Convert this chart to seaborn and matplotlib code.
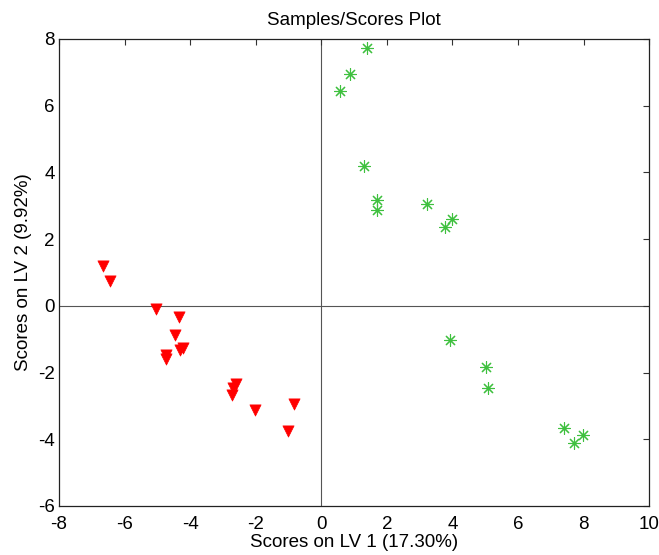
"""
Samples/Scores plot (LV1 vs LV2) recreated with seaborn
"""
import matplotlib
matplotlib.use('Agg')
import matplotlib.pyplot as plt
import seaborn as sns
import pandas as pd

# class 1 (red triangles)
lv1_a = [-6.66, -6.43, -5.03, -4.34, -4.46, -4.22, -4.32, -4.75, -4.75,
         -2.61, -2.69, -2.72, -2.03, -0.83, -1.01]
lv2_a = [1.20, 0.75, -0.10, -0.35, -0.88, -1.26, -1.33, -1.46, -1.60,
         -2.33, -2.46, -2.66, -3.13, -2.95, -3.75]

# class 2 (green stars)
lv1_b = [1.39, 0.89, 0.57, 1.31, 1.69, 1.69, 3.24, 3.99, 3.78,
         3.94, 5.02, 5.10, 7.41, 7.98, 7.72]
lv2_b = [7.73, 6.96, 6.43, 4.20, 3.17, 2.87, 3.04, 2.59, 2.35,
         -1.03, -1.84, -2.45, -3.65, -3.86, -4.11]

xticks = [-8, -6, -4, -2, 0, 2, 4, 6, 8, 10]
yticks = [-6, -4, -2, 0, 2, 4, 6, 8]

df = pd.DataFrame({
    'lv1': lv1_a + lv1_b,
    'lv2': lv2_a + lv2_b,
    'cls': ['a'] * len(lv1_a) + ['b'] * len(lv1_b),
})

sns.set_style('white')
plt.rcParams['font.family'] = ['Liberation Sans', 'DejaVu Sans']
plt.rcParams['axes.unicode_minus'] = False
plt.rcParams['xtick.direction'] = 'in'
plt.rcParams['ytick.direction'] = 'in'
plt.rcParams['text.color'] = 'black'
plt.rcParams['axes.labelcolor'] = 'black'
plt.rcParams['xtick.labelcolor'] = 'black'
plt.rcParams['ytick.labelcolor'] = 'black'

fig = plt.figure(figsize=(6.59, 5.55), dpi=100)
ax = fig.add_axes([0.0895, 0.0883, 0.8955, 0.8417])

ax.axhline(0, color='#555555', lw=0.8, zorder=0)
ax.axvline(0, color='#555555', lw=0.8, zorder=0)

sns.scatterplot(data=df[df.cls == 'a'], x='lv1', y='lv2', marker='v',
                color='#ff0000', edgecolor='#ff0000', s=65, linewidth=0.5,
                ax=ax, legend=False)
sns.scatterplot(data=df[df.cls == 'b'], x='lv1', y='lv2', marker=(8, 2, 0),
                color='#3fc03f', edgecolor='#3fc03f', s=75, linewidth=0.8,
                ax=ax, legend=False)

ax.set_xlim(-8, 10)
ax.set_ylim(-6, 8)
ax.set_xticks(xticks)
ax.set_yticks(yticks)
ax.tick_params(axis='x', pad=7)
ax.tick_params(axis='y', pad=3)
ax.tick_params(axis='both', labelsize=13.5, length=4, width=0.8,
               top=True, right=True, color='#333333')
for sp in ax.spines.values():
    sp.set_color('#222222')
    sp.set_linewidth(0.9)

ax.set_title('Samples/Scores Plot', fontsize=13.5, pad=10)
ax.set_xlabel('Scores on LV 1 (17.30%)', fontsize=13.5, labelpad=1)
ax.set_ylabel('Scores on LV 2 (9.92%)', fontsize=13.5, labelpad=4)

fig.savefig('out.png', dpi=100)
